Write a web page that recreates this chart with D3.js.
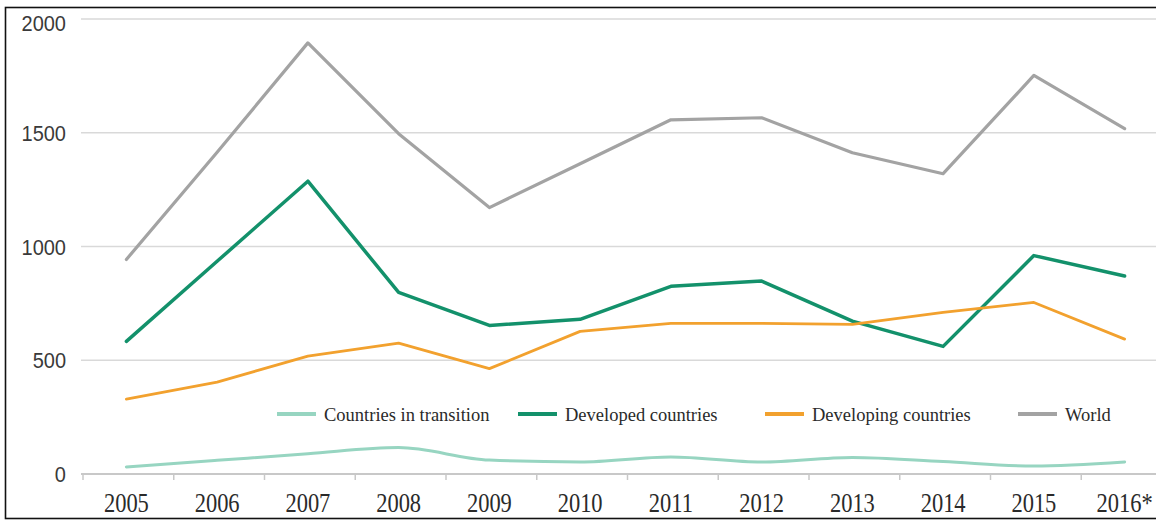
<!DOCTYPE html>
<html><head><meta charset="utf-8">
<script src="https://cdn.jsdelivr.net/npm/d3@7"></script>
<style>
html,body{margin:0;padding:0;background:#fff;}
svg{display:block;}
</style></head>
<body>
<svg id="c" width="1156" height="521"></svg>
<script>
const years = ["2005","2006","2007","2008","2009","2010","2011","2012","2013","2014","2015","2016*"];
const transition = [31, 60, 89, 116, 61, 53, 75, 53, 73, 55, 35, 53];
const developed = [583, 935, 1287, 798, 653, 680, 825, 848, 672, 561, 960, 870];
const developing = [329, 404, 518, 575, 463, 627, 662, 662, 658, 710, 754, 593];
const world = [943, 1414, 1895, 1496, 1171, 1364, 1557, 1566, 1412, 1320, 1752, 1518];
const yTicks = [0, 500, 1000, 1500, 2000];
const seriesNames = ["Countries in transition", "Developed countries", "Developing countries", "World"];

const colors = {"Countries in transition":"#97d5c1", "Developed countries":"#13916b", "Developing countries":"#f2a12e", "World":"#a3a3a3"};
const widths = {"Countries in transition":3, "Developed countries":3.5, "Developing countries":2.8, "World":3.2};
const series = [
  {name: seriesNames[3], values: world},
  {name: seriesNames[1], values: developed},
  {name: seriesNames[2], values: developing},
  {name: seriesNames[0], values: transition, smooth: true}
];

const svg = d3.select("#c");
const x = d3.scaleBand().domain(years).range([81, 1170]);
const y = d3.scaleLinear().domain([0, 2000]).range([474, 19]);
const cx = d => x(d) + x.bandwidth()/2;

// grid lines
svg.append("g").selectAll("line").data(yTicks.filter(t => t > 0)).join("line")
  .attr("x1", 81).attr("x2", 1156)
  .attr("y1", d => y(d)).attr("y2", d => y(d))
  .attr("stroke", "#d9d9d9").attr("stroke-width", 1.6);

// y labels
const yAxis = svg.append("g").attr("transform", "translate(66,0)")
  .call(d3.axisLeft(y).tickValues(yTicks).tickFormat(d3.format("d")).tickSize(0).tickPadding(0));
yAxis.select(".domain").remove();
yAxis.selectAll(".tick").attr("transform", null);
yAxis.selectAll("text")
  .attr("x", 0).attr("y", 0).attr("dy", null)
  .attr("font-family", "'Liberation Sans', Arial, sans-serif")
  .attr("font-size", 20).attr("fill", "#3a3a3a")
  .attr("transform", d => `translate(0,${y(d) + (d === 2000 ? 12 : 8)}) scale(1,1.12)`);

// x axis baseline
svg.append("line").attr("x1", 81).attr("x2", 1156).attr("y1", y(0)).attr("y2", y(0))
  .attr("stroke", "#c8c8c8").attr("stroke-width", 1.8);
// tick marks at band boundaries
svg.append("g").selectAll("line").data(years).join("line")
  .attr("x1", d => x(d) + 2).attr("x2", d => x(d) + 2)
  .attr("y1", y(0)).attr("y2", y(0) + 6)
  .attr("stroke", "#c8c8c8").attr("stroke-width", 1.5);

// x labels
const xAxis = svg.append("g").attr("transform", `translate(0,${y(0)})`)
  .call(d3.axisBottom(x).tickSize(0).tickPadding(0));
xAxis.select(".domain").remove();
xAxis.selectAll("text")
  .attr("y", 0).attr("dy", null)
  .attr("font-family", "'Liberation Serif', 'Times New Roman', serif")
  .attr("font-size", 22.5).attr("fill", "#2a2a2a")
  .attr("transform", "translate(0,38) scale(1,1.17)");

// lines
const lineLin = d3.line().x((v,i) => cx(years[i])).y(v => y(v));
const lineSmooth = d3.line().x((v,i) => cx(years[i])).y(v => y(v)).curve(d3.curveMonotoneX);
svg.append("g").selectAll("path").data(series).join("path")
  .attr("d", s => (s.smooth ? lineSmooth : lineLin)(s.values))
  .attr("fill", "none")
  .attr("stroke", s => colors[s.name])
  .attr("stroke-width", s => widths[s.name])
  .attr("stroke-linejoin", "round").attr("stroke-linecap", "round");

// legend
const legendX = [277, 518, 765, 1018];
const lg = svg.append("g").selectAll("g").data(seriesNames).join("g")
  .attr("transform", (d,i) => `translate(${legendX[i]},414)`);
lg.append("line").attr("x1", 0).attr("x2", 39).attr("y1", 0).attr("y2", 0)
  .attr("stroke", d => colors[d]).attr("stroke-width", 4);
lg.append("text").attr("x", 47).attr("y", 7)
  .attr("font-family", "'Liberation Serif', 'Times New Roman', serif")
  .attr("font-size", 18.5).attr("fill", "#2a2a2a")
  .text(d => d);

// frame
svg.append("rect").attr("x", 5.5).attr("y", 7.5).attr("width", 1160).attr("height", 511)
  .attr("fill", "none").attr("stroke", "#111").attr("stroke-width", 1.6);
</script>
</body></html>
